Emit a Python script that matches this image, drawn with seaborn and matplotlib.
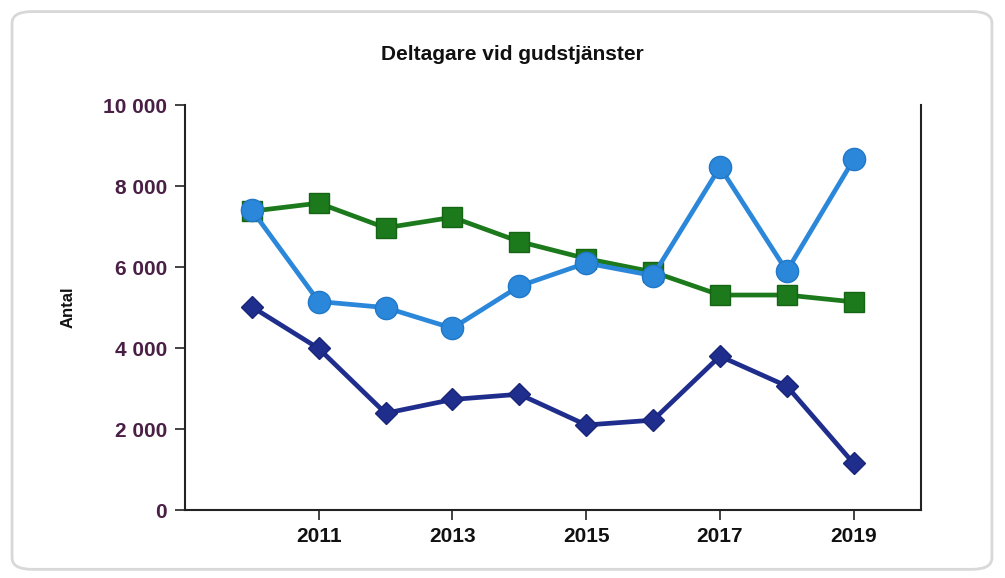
import matplotlib
matplotlib.use("Agg")
import matplotlib.pyplot as plt
import seaborn as sns
import pandas as pd
from matplotlib.patches import FancyBboxPatch
from matplotlib.ticker import FuncFormatter, FixedLocator

years = [2010, 2011, 2012, 2013, 2014, 2015, 2016, 2017, 2018, 2019]
green_vals = [7380, 7580, 6970, 7230, 6630, 6210, 5880, 5310, 5310, 5140]
light_vals = [7410, 5150, 5000, 4490, 5530, 6100, 5790, 8470, 5900, 8660]
dark_vals = [5020, 3990, 2390, 2730, 2860, 2100, 2220, 3800, 3060, 1150]

x_ticks = [2011, 2013, 2015, 2017, 2019]
y_ticks = [0, 2000, 4000, 6000, 8000, 10000]

title = "Deltagare vid gudstjänster"
y_label = "Antal"

sns.set_theme(style="white")
plt.rcParams["font.family"] = ["Liberation Sans", "DejaVu Sans"]

fig = plt.figure(figsize=(10.05, 5.78), dpi=100)
fig.patch.set_facecolor("white")
frame = FancyBboxPatch(
    (0.012, 0.015), 0.975, 0.965,
    boxstyle="round,pad=0,rounding_size=0.02",
    transform=fig.transFigure, facecolor="none",
    edgecolor="#d8d8d8", linewidth=2, zorder=-1,
)
fig.patches.append(frame)

ax = fig.add_axes([0.184, 0.1176, 0.732, 0.7005])
ax.set_facecolor("none")

df_dark = pd.DataFrame({"year": years, "value": dark_vals})
df_green = pd.DataFrame({"year": years, "value": green_vals})
df_light = pd.DataFrame({"year": years, "value": light_vals})

sns.lineplot(data=df_dark, x="year", y="value", ax=ax, color="#1f2d8c",
             linewidth=3.4, marker="D", markersize=11.5,
             markeredgecolor="#1a2678", markeredgewidth=1, zorder=3)
sns.lineplot(data=df_green, x="year", y="value", ax=ax, color="#1c7a1c",
             linewidth=3.4, marker="s", markersize=15,
             markeredgecolor="#156515", markeredgewidth=1, zorder=4)
sns.lineplot(data=df_light, x="year", y="value", ax=ax, color="#2a87d9",
             linewidth=3.4, marker="o", markersize=16,
             markeredgecolor="#2278c8", markeredgewidth=1, zorder=5)

ax.set_xlim(2009.0, 2020.0)
ax.set_ylim(0, 10000)
ax.xaxis.set_major_locator(FixedLocator(x_ticks))
ax.yaxis.set_major_locator(FixedLocator(y_ticks))
ax.yaxis.set_major_formatter(FuncFormatter(lambda v, p: f"{int(v):,}".replace(",", " ")))

for side in ["left", "bottom", "right"]:
    ax.spines[side].set_visible(True)
    ax.spines[side].set_color("#222222")
    ax.spines[side].set_linewidth(1.5)
ax.spines["top"].set_visible(False)

ax.tick_params(axis="y", which="major", left=True, length=7, width=1.2,
               color="#222222", pad=6, labelsize=15, labelcolor="#4a1f45")
ax.tick_params(axis="x", which="major", bottom=True, length=7, width=1.2,
               color="#222222", pad=5, labelsize=15, labelcolor="#111111")
for lbl in ax.get_xticklabels() + ax.get_yticklabels():
    lbl.set_fontweight("bold")

ax.set_xlabel("")
ax.set_ylabel(y_label, fontsize=12, fontweight="bold", color="#111111")
ax.yaxis.set_label_coords(-0.148, 0.5)

fig.text(0.51, 0.905, title, ha="center", va="center", fontsize=15,
         fontweight="bold", color="#111111")

fig.savefig("out.png", dpi=100)
